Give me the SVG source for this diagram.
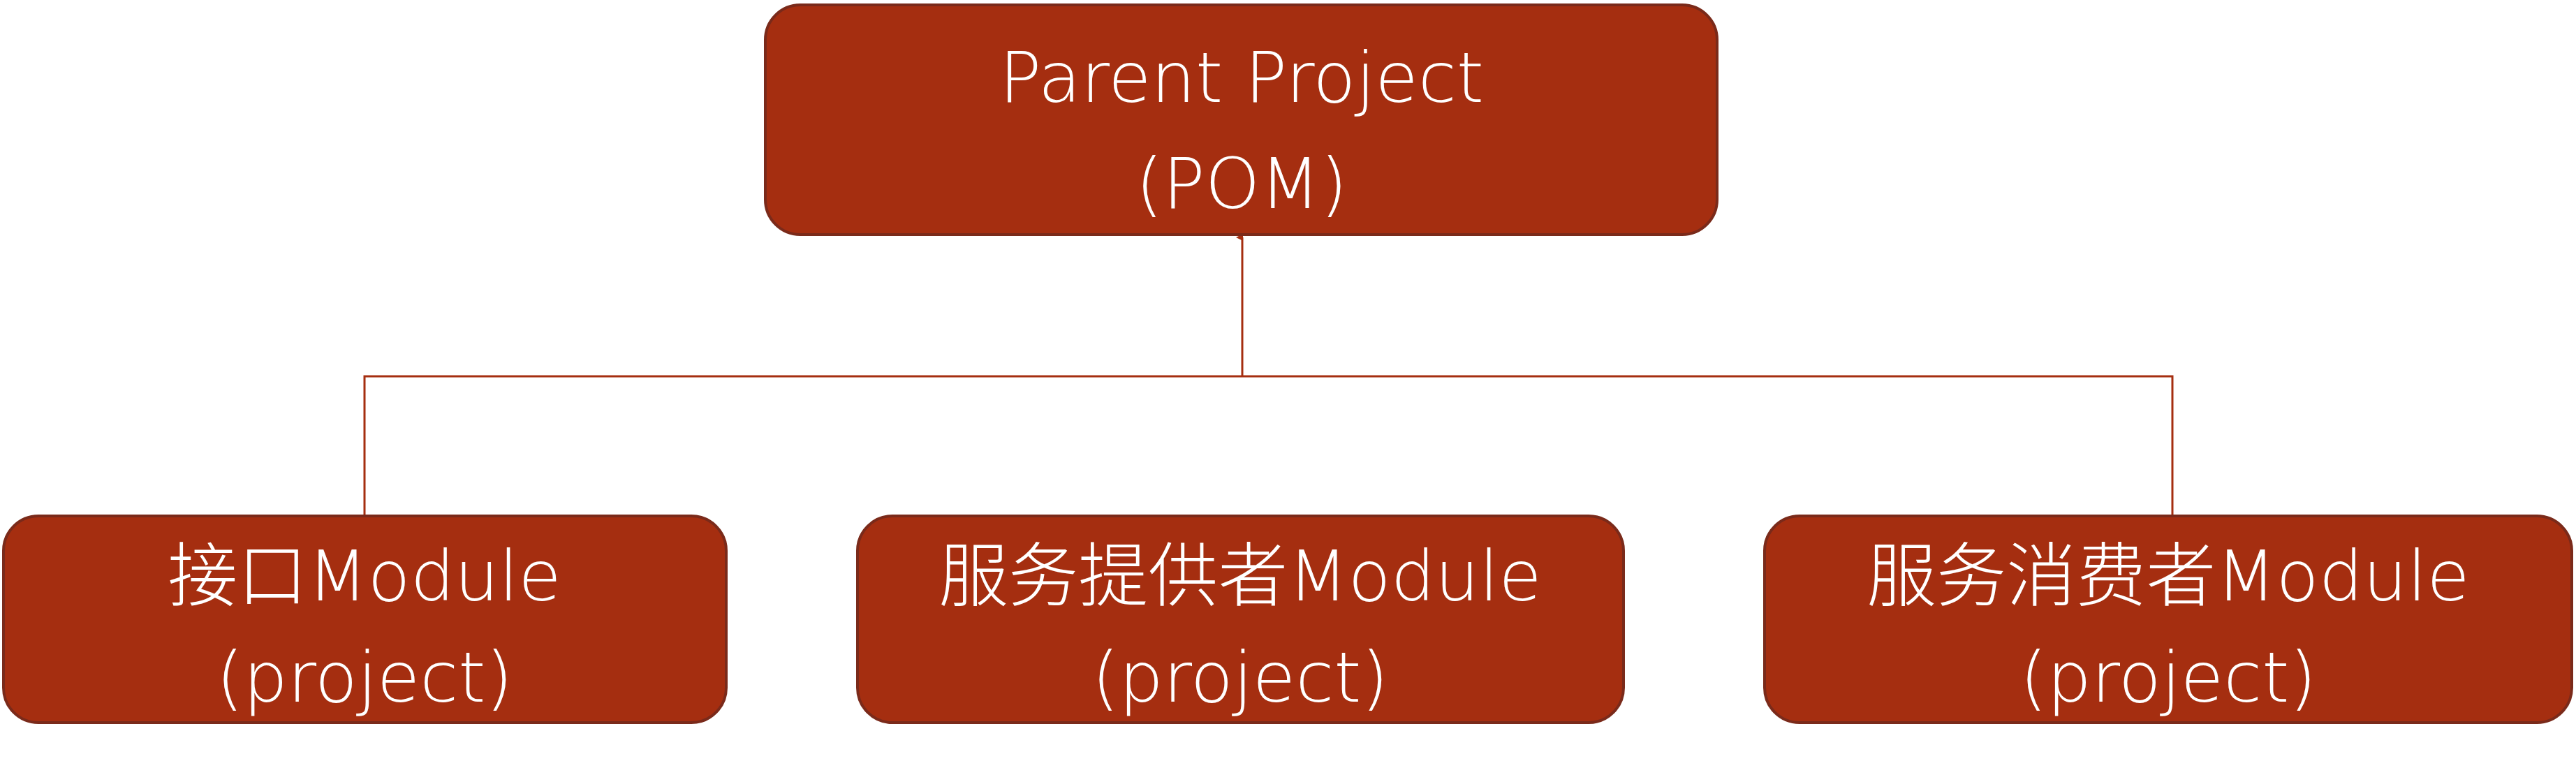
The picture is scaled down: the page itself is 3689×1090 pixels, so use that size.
<svg xmlns="http://www.w3.org/2000/svg" width="3689" height="1090" viewBox="0 0 3689 1090">
<style>
.box{fill:#A52E10;stroke:#7A2A1A;stroke-width:4}
.t{font-family:"DejaVu Sans","Noto Sans CJK SC",sans-serif;font-size:100px;fill:#fff;text-anchor:middle;font-weight:300}
.c{fill:none;stroke:#A52E10;stroke-width:3}
</style>
<defs><marker id="a" markerWidth="10" markerHeight="10" refX="5" refY="9" orient="auto-start-reverse" markerUnits="userSpaceOnUse" viewBox="0 0 10 10"><path d="M0,10 L5,0 L10,10 Z" fill="#A52E10"/></marker></defs>
<g id="connectors">
<path class="c" d="M1779,539 V340" marker-end="url(#a)"/>
<path class="c" d="M522,739 V539 H3111 V739"/>
</g>
<g id="parent"><rect class="box" x="1096" y="7" width="1363" height="329" rx="50"/>
<text class="t" x="1778" y="146">Parent Project</text><text class="t" x="1778" y="298">(POM)</text></g>
<g id="m1"><rect class="box" x="5" y="739" width="1035" height="296" rx="50"/>
<text class="t" x="522" y="860">接口Module</text><text class="t" x="522" y="1005">(project)</text></g>
<g id="m2"><rect class="box" x="1228" y="739" width="1097" height="296" rx="50"/>
<text class="t" x="1776" y="860">服务提供者Module</text><text class="t" x="1776" y="1005">(project)</text></g>
<g id="m3"><rect class="box" x="2527" y="739" width="1156" height="296" rx="50"/>
<text class="t" x="3105" y="860">服务消费者Module</text><text class="t" x="3105" y="1005">(project)</text></g>
</svg>
